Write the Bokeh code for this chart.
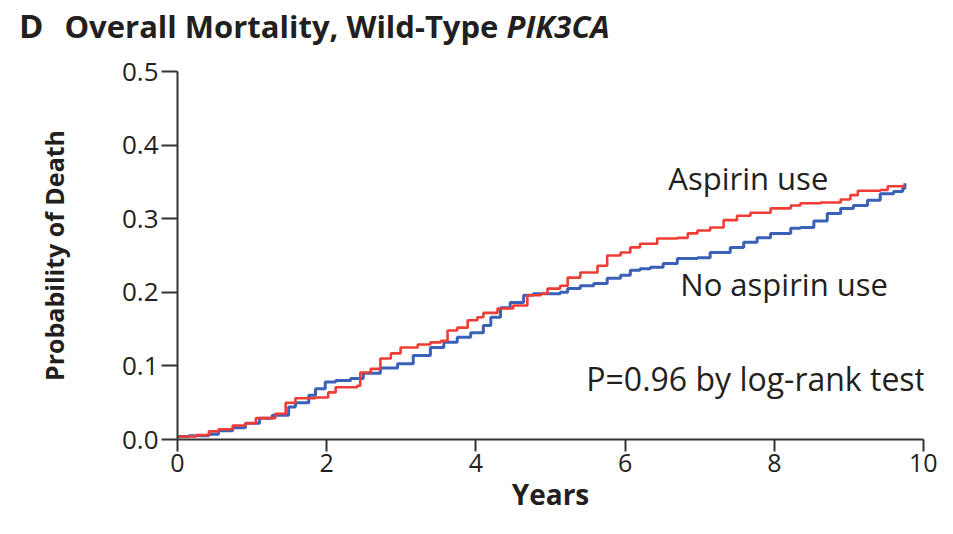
from bokeh.plotting import figure
from bokeh.models import Range1d, Label, FixedTicker, Div
from bokeh.layouts import column
from bokeh.embed import file_html
from bokeh.resources import INLINE

# ---- data ----
aspirin_t = [0, 0.25, 0.42, 0.55, 0.74, 0.91, 1.05, 1.31, 1.45, 1.58, 1.85, 2.02, 2.12, 2.41, 2.45,
             2.59, 2.72, 2.86, 2.99, 3.22, 3.39, 3.53, 3.62, 3.75, 3.89, 4.02, 4.1, 4.29, 4.5, 4.69,
             4.87, 4.96, 5.13, 5.23, 5.4, 5.63, 5.76, 5.94, 6.07, 6.2, 6.43, 6.7, 6.84, 6.97, 7.14,
             7.32, 7.5, 7.68, 7.95, 8.22, 8.35, 8.62, 8.89, 9.02, 9.12, 9.42, 9.52, 9.75]
aspirin_p = [0.004, 0.006, 0.011, 0.014, 0.019, 0.022, 0.029, 0.035, 0.05, 0.056, 0.057, 0.064, 0.071,
             0.073, 0.091, 0.096, 0.11, 0.117, 0.125, 0.129, 0.132, 0.134, 0.148, 0.152, 0.162, 0.166,
             0.172, 0.178, 0.182, 0.196, 0.198, 0.205, 0.209, 0.22, 0.227, 0.236, 0.25, 0.254, 0.261,
             0.266, 0.273, 0.274, 0.28, 0.284, 0.288, 0.298, 0.304, 0.308, 0.314, 0.318, 0.321, 0.322,
             0.326, 0.332, 0.338, 0.339, 0.344, 0.344]

noasp_t = [0, 0.15, 0.42, 0.55, 0.74, 0.91, 1.1, 1.27, 1.49, 1.58, 1.76, 1.85, 1.98, 2.12, 2.32, 2.49,
           2.72, 2.95, 3.16, 3.39, 3.57, 3.75, 3.93, 4.1, 4.2, 4.33, 4.46, 4.64, 4.77, 5.13, 5.23, 5.4,
           5.58, 5.76, 5.94, 6.07, 6.2, 6.34, 6.51, 6.7, 6.97, 7.14, 7.41, 7.59, 7.77, 7.95, 8.22, 8.35,
           8.53, 8.71, 8.89, 9.06, 9.25, 9.42, 9.6, 9.72, 9.75]
noasp_p = [0.004, 0.005, 0.007, 0.012, 0.016, 0.022, 0.029, 0.033, 0.044, 0.05, 0.06, 0.069, 0.078,
           0.08, 0.083, 0.09, 0.097, 0.103, 0.114, 0.125, 0.132, 0.139, 0.145, 0.155, 0.166, 0.179,
           0.186, 0.196, 0.198, 0.2, 0.205, 0.209, 0.212, 0.219, 0.223, 0.23, 0.232, 0.234, 0.239,
           0.246, 0.247, 0.254, 0.261, 0.268, 0.274, 0.28, 0.287, 0.288, 0.297, 0.307, 0.314, 0.318,
           0.325, 0.334, 0.337, 0.341, 0.348]

x_ticks = [0, 2, 4, 6, 8, 10]
y_ticks = [0.0, 0.1, 0.2, 0.3, 0.4, 0.5]
y_tick_labels = {0.0: "0.0", 0.1: "0.1", 0.2: "0.2", 0.3: "0.3", 0.4: "0.4", 0.5: "0.5"}

FONT = "Open Sans"
TXT = "#231f20"
AXC = "#333333"
RED = "#ef3d35"
BLUE = "#3a60b8"

TITLE_H = 52

title = Div(
    text=('<span style="font-size:33px">D</span>'
          '<span style="margin-left:21px">Overall Mortality, Wild-Type <i>PIK3CA</i></span>'),
    width=937, height=TITLE_H, margin=(0, 0, 0, 0),
    styles={"font-family": "'Open Sans', sans-serif", "font-size": "31px", "font-weight": "bold",
            "color": TXT, "padding-left": "19px", "padding-top": "9px", "line-height": "1",
            "white-space": "nowrap"})

p = figure(width=937, height=518 - TITLE_H, x_range=Range1d(0, 10), y_range=Range1d(0, 0.5),
           output_backend="svg", toolbar_location=None, margin=(0, 0, 0, 0),
           min_border_left=177, min_border_right=14, min_border_top=71 - TITLE_H,
           min_border_bottom=79)
p.outline_line_color = None
p.grid.grid_line_color = None
p.background_fill_color = "white"

p.step(noasp_t, noasp_p, mode="after", line_color=BLUE, line_width=3)
p.step(aspirin_t, aspirin_p, mode="after", line_color=RED, line_width=2.6)

for ax in (p.xaxis[0], p.yaxis[0]):
    ax.axis_line_color = AXC
    ax.axis_line_width = 2
    ax.major_tick_line_color = AXC
    ax.major_tick_line_width = 2
    ax.minor_tick_line_color = None
    ax.major_tick_in = 0
    ax.major_label_text_font = FONT
    ax.major_label_text_color = TXT
    ax.axis_label_text_font = FONT
    ax.axis_label_text_font_style = "bold"
    ax.axis_label_text_color = TXT

p.xaxis.ticker = FixedTicker(ticks=x_ticks)
p.xaxis.major_tick_out = 12
p.xaxis.major_label_standoff = 2
p.xaxis.major_label_text_font_size = "25px"
p.xaxis.axis_label = "Years"
p.xaxis.axis_label_text_font_size = "28px"
p.xaxis.axis_label_standoff = 0

p.yaxis.ticker = FixedTicker(ticks=y_ticks)
p.yaxis.major_label_overrides = y_tick_labels
p.yaxis.major_tick_out = 16
p.yaxis.major_label_standoff = 3
p.yaxis.major_label_text_font_size = "26px"
p.yaxis.axis_label = "Probability of Death"
p.yaxis.axis_label_text_font_size = "25px"
p.yaxis.axis_label_standoff = 48

# Annotations
p.add_layout(Label(x=6.58, y=0.355, text="Aspirin use", text_font=FONT, text_font_size="31px",
                   text_color=TXT, text_baseline="middle"))
p.add_layout(Label(x=6.74, y=0.211, text="No aspirin use", text_font=FONT, text_font_size="31px",
                   text_color=TXT, text_baseline="middle"))
p.add_layout(Label(x=5.48, y=0.083, text="P=0.96 by log-rank test", text_font=FONT,
                   text_font_size="32px", text_color=TXT, text_baseline="middle"))

layout = column(title, p, spacing=0, margin=(0, 0, 0, 0))
open("out.html", "w").write(file_html(layout, INLINE))
